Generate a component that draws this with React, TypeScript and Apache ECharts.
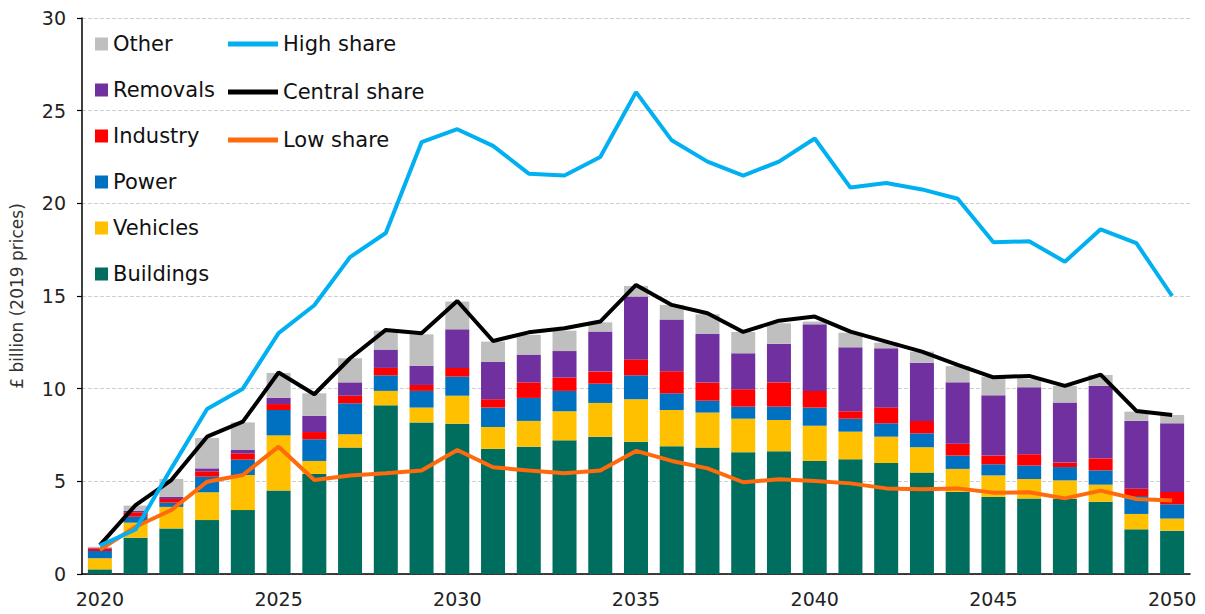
import React, { useEffect, useRef } from "react";
import * as echarts from "echarts";

const years = Array.from({ length: 31 }, (_, i) => String(2020 + i));

const buildings = [0.25,1.96,2.46,2.91,3.45,4.50,5.40,6.82,9.10,8.18,8.11,6.75,6.87,7.21,7.41,7.14,6.89,6.82,6.57,6.62,6.10,6.19,5.99,5.47,4.43,4.16,4.08,4.05,3.90,2.41,2.34];
const vehicles = [0.60,0.81,1.16,1.50,1.89,2.98,0.70,0.72,0.78,0.80,1.51,1.18,1.39,1.57,1.82,2.29,1.96,1.89,1.81,1.69,1.90,1.49,1.42,1.37,1.24,1.16,1.05,1.00,0.92,0.83,0.65];
const power = [0.39,0.32,0.23,0.84,0.83,1.37,1.17,1.67,0.84,0.90,1.03,1.05,1.24,1.10,1.04,1.29,0.90,0.64,0.65,0.72,0.98,0.70,0.72,0.75,0.72,0.60,0.73,0.72,0.77,0.97,0.77];
const industry = [0.13,0.24,0.20,0.29,0.34,0.32,0.39,0.41,0.40,0.32,0.47,0.45,0.84,0.72,0.65,0.86,1.19,0.98,0.94,1.31,0.90,0.40,0.86,0.67,0.64,0.47,0.60,0.24,0.65,0.39,0.67];
const removals = [0.05,0.07,0.11,0.16,0.18,0.33,0.87,0.72,0.99,1.04,2.08,2.01,1.50,1.43,2.16,3.39,2.79,2.62,1.94,2.09,3.59,3.45,3.19,3.13,3.31,3.25,3.61,3.24,3.91,3.66,3.70];
const other = [0.05,0.29,0.97,1.64,1.49,1.35,1.22,1.30,1.02,1.69,1.50,1.10,1.06,1.10,0.50,0.57,0.79,1.06,1.15,1.10,0.15,0.79,0.30,0.61,0.88,1.01,0.47,0.90,0.59,0.50,0.45];

const highShare = [1.53,2.4,5.7,8.9,10.0,13.0,14.5,17.1,18.4,23.3,24.0,23.1,21.6,21.5,22.5,26.0,23.4,22.25,21.5,22.25,23.5,20.85,21.1,20.75,20.25,17.9,17.95,16.85,18.6,17.85,15.0];
const centralShare = [1.56,3.72,5.07,7.41,8.22,10.87,9.70,11.64,13.17,12.99,14.73,12.57,13.04,13.26,13.62,15.6,14.52,14.07,13.06,13.67,13.89,13.08,12.54,12.0,11.28,10.61,10.69,10.15,10.76,8.80,8.58];
const lowShare = [1.30,2.55,3.45,4.98,5.34,6.87,5.07,5.31,5.43,5.58,6.69,5.76,5.58,5.43,5.58,6.64,6.10,5.70,4.95,5.11,5.02,4.89,4.62,4.57,4.62,4.39,4.41,4.08,4.50,4.05,3.96];

const FONT = "DejaVu Sans";

export default function App() {
  const ref = useRef<HTMLDivElement>(null);
  useEffect(() => {
    if (!ref.current) return;
    const chart = echarts.init(ref.current, null, { renderer: "svg" });
    const bar = (name: string, data: number[], color: string) => ({
      name,
      type: "bar",
      stack: "total",
      barWidth: 24,
      data,
      itemStyle: { color },
      emphasis: { disabled: true },
    });
    const line = (name: string, data: number[], color: string) => ({
      name,
      type: "line",
      data,
      symbol: "none",
      lineStyle: { color, width: 4 },
      itemStyle: { color },
      z: 5,
      emphasis: { disabled: true },
    });
    const legendText = { fontFamily: FONT, fontSize: 21, color: "#111", lineHeight: 26 };
    chart.setOption({
      animation: false,
      textStyle: { fontFamily: FONT },
      grid: { left: 80, right: 15, top: 18, bottom: 40, containLabel: false },
      legend: [
        {
          orient: "vertical",
          left: 90,
          top: 26,
          itemWidth: 13,
          itemHeight: 13,
          itemGap: 20,
          icon: "rect",
          textStyle: legendText,
          data: ["Other", "Removals", "Industry", "Power", "Vehicles", "Buildings"],
          selectedMode: false,
        },
        {
          orient: "vertical",
          left: 223,
          top: 26,
          itemWidth: 50,
          itemHeight: 5,
          itemGap: 22,
          icon: "rect",
          textStyle: legendText,
          data: ["High share", "Central share", "Low share"],
          selectedMode: false,
        },
      ],
      xAxis: {
        type: "category",
        data: years,
        boundaryGap: true,
        axisLine: { lineStyle: { color: "#000", width: 1.5 } },
        axisTick: { interval: 0, length: 6, lineStyle: { color: "#000", width: 1.2 } },
        axisLabel: { interval: 4, fontSize: 19, color: "#222", fontFamily: FONT, margin: 15 },
        splitLine: { show: false },
      },
      yAxis: {
        type: "value",
        min: 0,
        max: 30,
        interval: 5,
        name: "£ billion (2019 prices)",
        nameLocation: "middle",
        nameGap: 57,
        nameRotate: 90,
        nameTextStyle: { fontSize: 17, color: "#333", fontFamily: FONT },
        axisLine: { show: true, lineStyle: { color: "#000", width: 1.5 } },
        axisTick: { show: true, length: 5, lineStyle: { color: "#000", width: 1.2 } },
        axisLabel: { fontSize: 19, color: "#222", fontFamily: FONT, margin: 16 },
        splitLine: { lineStyle: { color: "#cfcfcf", type: "dashed", width: 1 } },
      },
      series: [
        bar("Buildings", buildings, "#006E5E"),
        bar("Vehicles", vehicles, "#FFC000"),
        bar("Power", power, "#0070C0"),
        bar("Industry", industry, "#FF0000"),
        bar("Removals", removals, "#7030A0"),
        bar("Other", other, "#BFBFBF"),
        line("Central share", centralShare, "#000000"),
        line("Low share", lowShare, "#FF6A0D"),
        line("High share", highShare, "#00B0F0"),
      ],
    });
    return () => chart.dispose();
  }, []);
  return (
    <div
      ref={ref}
      style={{ position: "absolute", left: 0, top: 0, width: 1205, height: 614, background: "#fff" }}
    />
  );
}
